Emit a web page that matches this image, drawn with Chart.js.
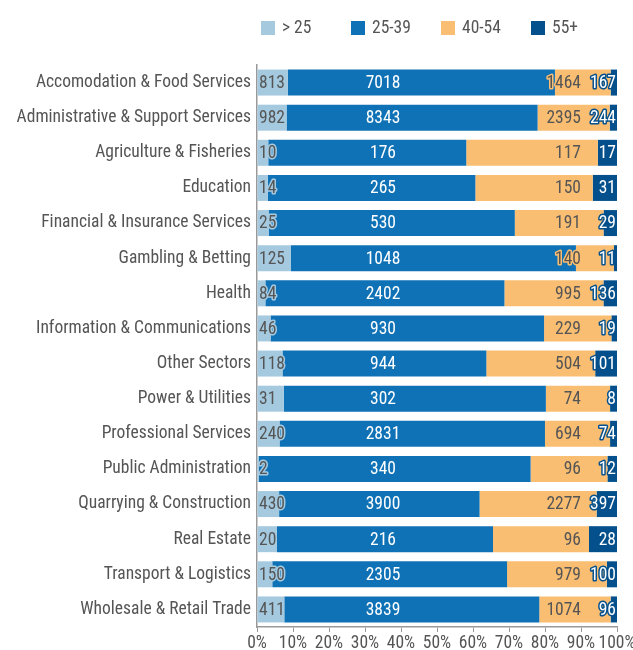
<!DOCTYPE html>
<html>
<head>
<meta charset="utf-8">
<script src="https://cdn.jsdelivr.net/npm/chart.js@4.4.1/dist/chart.umd.min.js"></script>
<style>
  html, body { margin: 0; padding: 0; background: #fff; }
  #wrap { position: relative; width: 633px; height: 650px; }
  #legend { position: absolute; top: 0; left: 0; width: 633px; height: 50px; }
  .item { position: absolute; top: 17px; font: condensed 17.5px Roboto, sans-serif; color: #555; line-height: 20px; }
  .item span { display: inline-block; width: 14px; height: 14px; vertical-align: -2px; margin-right: 7px; }
</style>
</head>
<body>
<div id="wrap">
  <div id="legend"></div>
  <canvas id="chart" width="633" height="650"></canvas>
</div>
<script>
const sectors = [
  "Accomodation & Food Services",
  "Administrative & Support Services",
  "Agriculture & Fisheries",
  "Education",
  "Financial & Insurance Services",
  "Gambling & Betting",
  "Health",
  "Information & Communications",
  "Other Sectors",
  "Power & Utilities",
  "Professional Services",
  "Public Administration",
  "Quarrying & Construction",
  "Real Estate",
  "Transport & Logistics",
  "Wholesale & Retail Trade"
];

const under25 = [813, 982, 10, 14, 25, 125, 84, 46, 118, 31, 240, 2, 430, 20, 150, 411];
const age25to39 = [7018, 8343, 176, 265, 530, 1048, 2402, 930, 944, 302, 2831, 340, 3900, 216, 2305, 3839];
const age40to54 = [1464, 2395, 117, 150, 191, 140, 995, 229, 504, 74, 694, 96, 2277, 96, 979, 1074];
const over55 = [167, 244, 17, 31, 29, 11, 136, 19, 101, 8, 74, 12, 397, 28, 100, 96];

const groupNames = ["> 25", "25-39", "40-54", "55+"];
const groupColors = ["#a5cae0", "#1072b6", "#f9be72", "#03508c"];
const labelColors = ["#555", "#fff", "#555", "#fff"];

const groups = [under25, age25to39, age40to54, over55];
const totals = sectors.map((_, i) => groups.reduce((s, g) => s + g[i], 0));

// legend as a simple row above the canvas
const legend = document.getElementById("legend");
groupNames.forEach((name, i) => {
  const el = document.createElement("div");
  el.className = "item";
  el.style.left = (261 + i * 90) + "px";
  el.innerHTML = '<span style="background:' + groupColors[i] + '"></span>' + name;
  legend.appendChild(el);
});

// value labels: first group at the bar start, second near 35%, third ends at 90%, last at the end
const valueLabels = {
  id: "valueLabels",
  afterDatasetsDraw(chart) {
    const ctx = chart.ctx;
    const x = chart.scales.x;
    ctx.save();
    ctx.font = "condensed 17.5px Roboto, sans-serif";
    ctx.textBaseline = "middle";
    ctx.lineJoin = "round";
    chart.data.datasets.forEach((ds, d) => {
      const meta = chart.getDatasetMeta(d);
      meta.data.forEach((bar, i) => {
        const text = String(groups[d][i]);
        let px, align;
        if (d === 0) { px = x.getPixelForValue(0) + 2; align = "left"; }
        else if (d === 1) { px = x.getPixelForValue(35); align = "center"; }
        else if (d === 2) { px = x.getPixelForValue(90); align = "right"; }
        else { px = x.getPixelForValue(100) - 1; align = "right"; }
        ctx.textAlign = align;
        ctx.lineWidth = 3;
        ctx.strokeStyle = groupColors[d];
        ctx.strokeText(text, px, bar.y + 1);
        ctx.fillStyle = labelColors[d];
        ctx.fillText(text, px, bar.y + 1);
      });
    });
    ctx.restore();
  }
};

// Chart.js rejects "condensed" as a style, but passes weight straight into the font string
const tickFont = { family: "Roboto, sans-serif", weight: "condensed", size: 17.5 };

new Chart(document.getElementById("chart"), {
  type: "bar",
  data: {
    labels: sectors,
    datasets: groups.map((g, d) => ({
      label: groupNames[d],
      data: g.map((v, i) => v / totals[i] * 100),
      backgroundColor: groupColors[d],
      borderWidth: 0,
      barPercentage: 0.74,
      categoryPercentage: 1
    }))
  },
  options: {
    indexAxis: "y",
    responsive: false,
    animation: false,
    layout: { padding: { top: 65, right: 16, bottom: 0, left: 0 } },
    plugins: {
      legend: { display: false },
      tooltip: { enabled: false }
    },
    scales: {
      x: {
        stacked: true,
        min: 0,
        max: 100,
        ticks: { stepSize: 10, autoSkip: false, color: "#555", font: tickFont, padding: 1, maxRotation: 0, callback: v => v + "%" },
        grid: { drawOnChartArea: false, tickLength: 5, color: "#999" },
        border: { color: "#999", width: 1.5 },
        afterFit: s => { s.height = 23; s.paddingLeft = 0; s.paddingRight = 0; }
      },
      y: {
        stacked: true,
        ticks: { color: "#555", font: tickFont, padding: 6 },
        grid: { display: false, drawTicks: false },
        border: { color: "#999", width: 1.5 },
        afterFit: s => { s.width = 257; }
      }
    }
  },
  plugins: [valueLabels]
});
</script>
</body>
</html>
